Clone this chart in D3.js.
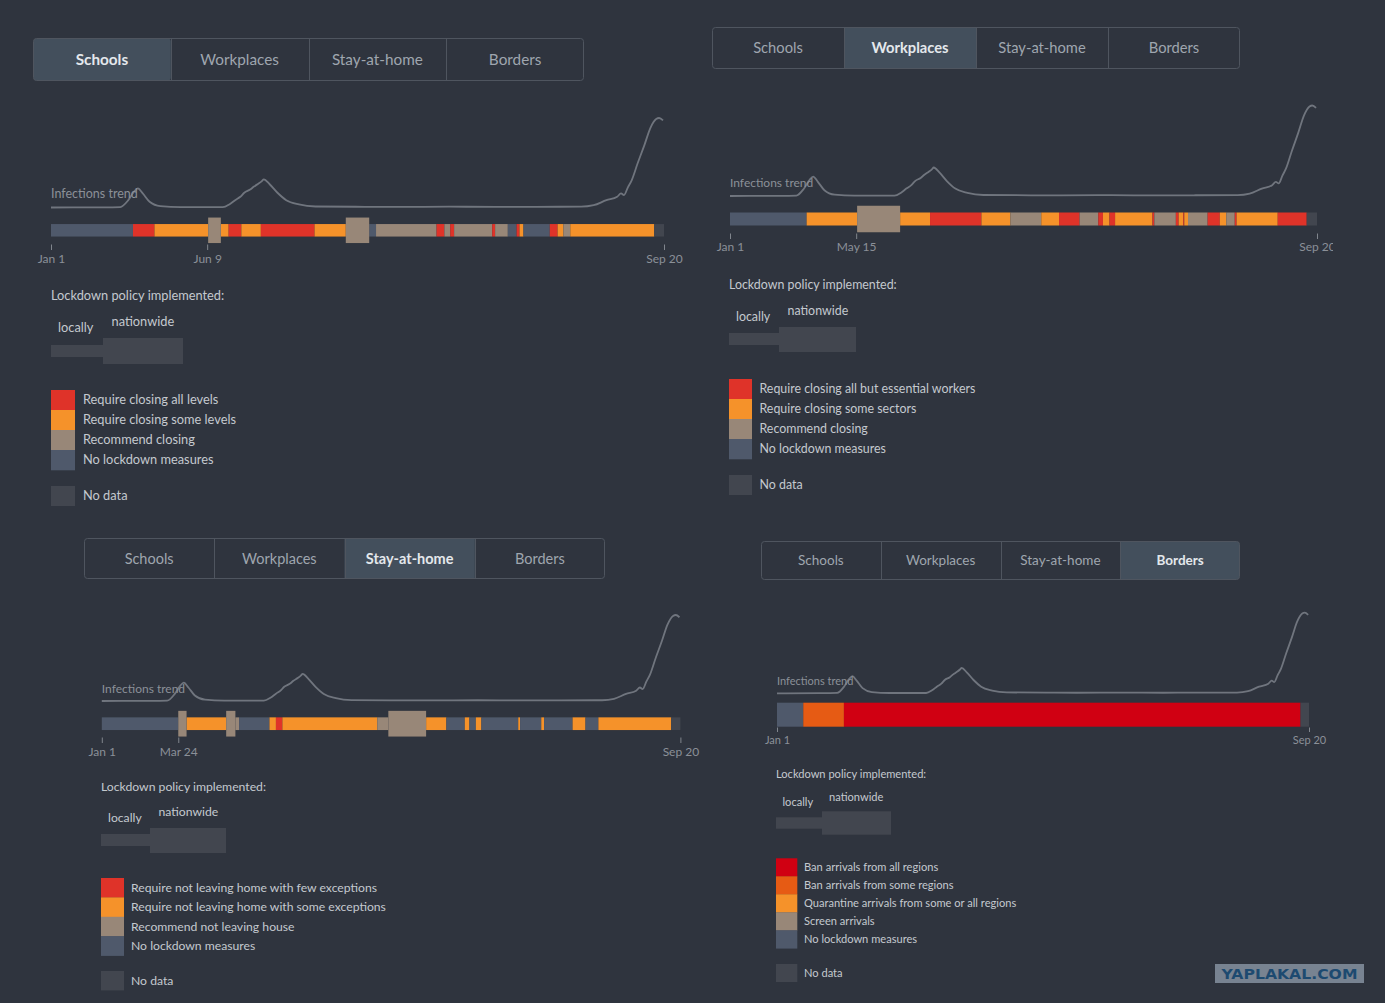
<!DOCTYPE html>
<html><head><meta charset="utf-8">
<script src="https://cdn.jsdelivr.net/npm/d3@7"></script>
<style>
html,body{margin:0;padding:0;background:#2f343e;}
svg{display:block;}
</style></head><body>
<svg id="c" width="1385" height="1003"></svg>
<script>
// ---------------- DATA ----------------
const tabLabels = ["Schools", "Workplaces", "Stay-at-home", "Borders"];
const dateStart = "2020-01-01";
const dateEnd = "2021-09-20";

// Infections trend (relative, peak = 100)
const trendDates = ["2020-01-01","2020-02-20","2020-03-12","2020-03-20","2020-03-26","2020-03-30","2020-04-04","2020-04-11","2020-04-22","2020-05-13",
  "2020-06-25","2020-07-02","2020-07-08","2020-07-13","2020-07-17","2020-07-23","2020-07-27","2020-08-01","2020-08-04","2020-08-06","2020-08-12","2020-08-20","2020-08-29","2020-09-11","2020-09-28",
  "2020-11-18","2020-12-20","2021-02-12","2021-04-01","2021-05-11","2021-06-27","2021-07-10","2021-07-23","2021-08-03","2021-08-07","2021-08-10","2021-08-14","2021-08-18",
  "2021-08-24","2021-08-31","2021-09-06","2021-09-12","2021-09-15","2021-09-19"];
const trendValues = [0,0.2,0.5,8,17.6,21.3,15.7,6.4,1.5,0.4,
  0.4,3.7,8.5,12,16.5,20,23.5,27,29.5,31.5,26,16.5,8.2,3.4,1.1,
  0.8,0.7,0.9,0.7,0.8,0.9,2.6,8.2,12,15.7,13.9,22.5,30.7,
  49.4,70,88.8,98.9,100,97.4];

// Timeline segments: [start date, level, scope]; each ends where the next begins
const schoolsSegments = [
  ["2020-01-01","l0","local"],["2020-03-25","l3","local"],["2020-04-16","l2","local"],["2020-06-10","l1","national"],
  ["2020-06-23","l2","local"],["2020-07-01","l3","local"],["2020-07-14","l2","local"],["2020-08-03","l3","local"],
  ["2020-09-27","l2","local"],["2020-10-29","l1","national"],["2020-11-22","l0","local"],["2020-11-29","l1","local"],
  ["2021-01-30","l3","local"],["2021-02-07","l1","local"],["2021-02-13","l3","local"],["2021-02-17","l1","local"],
  ["2021-03-28","l3","local"],["2021-03-31","l1","local"],["2021-04-13","l0","local"],["2021-04-22","l3","local"],
  ["2021-04-25","l2","local"],["2021-04-29","l0","local"],["2021-05-26","l3","local"],["2021-06-03","l2","local"],
  ["2021-06-09","l1","local"],["2021-06-16","l2","local"],["2021-09-10","nd","local"]
];
const workplacesSegments = [
  ["2020-01-01","l0","local"],["2020-03-23","l2","local"],["2020-05-16","l1","national"],["2020-07-01","l2","local"],
  ["2020-08-02","l3","local"],["2020-09-26","l2","local"],["2020-10-27","l1","local"],["2020-11-29","l2","local"],
  ["2020-12-18","l3","local"],["2021-01-09","l1","local"],["2021-01-29","l3","local"],["2021-02-03","l2","local"],
  ["2021-02-10","l3","local"],["2021-02-16","l2","local"],["2021-03-28","l3","local"],["2021-03-30","l1","local"],
  ["2021-04-22","l3","local"],["2021-04-25","l2","local"],["2021-04-30","l3","local"],["2021-05-01","l2","local"],
  ["2021-05-05","l1","local"],["2021-05-26","l3","local"],["2021-06-08","l2","local"],["2021-06-15","l1","local"],
  ["2021-06-24","l3","local"],["2021-06-26","l2","local"],["2021-08-09","l3","local"],["2021-09-09","nd","local"]
];
const stayHomeSegments = [
  ["2020-01-01","l0","local"],["2020-03-24","l1","national"],["2020-04-02","l2","local"],["2020-05-15","l1","national"],
  ["2020-05-25","l1","local"],["2020-05-29","l0","local"],["2020-07-01","l2","local"],["2020-07-08","l3","local"],
  ["2020-07-15","l2","local"],["2020-10-26","l1","local"],["2020-11-07","l1","national"],["2020-12-18","l2","local"],
  ["2021-01-09","l0","local"],["2021-01-29","l2","local"],["2021-02-03","l0","local"],["2021-02-10","l2","local"],
  ["2021-02-16","l0","local"],["2021-03-28","l2","local"],["2021-03-30","l0","local"],["2021-04-22","l2","local"],
  ["2021-04-25","l0","local"],["2021-05-26","l2","local"],["2021-06-09","l0","local"],["2021-06-23","l2","local"],
  ["2021-09-10","nd","local"]
];
const bordersSegments = [
  ["2020-01-01","l0","national"],["2020-02-01","l3","national"],["2020-03-20","l4","national"],["2021-09-10","nd","national"]
];

// Axis tick dates
const schoolsTicks = ["2020-01-01","2020-06-09","2021-09-20"];
const workplacesTicks = ["2020-01-01","2020-05-15","2021-09-20"];
const stayHomeTicks = ["2020-01-01","2020-03-24","2021-09-20"];
const bordersTicks = ["2020-01-01","2021-09-20"];

// Legend entries
const schoolsLegend = ["Require closing all levels","Require closing some levels","Recommend closing","No lockdown measures"];
const workplacesLegend = ["Require closing all but essential workers","Require closing some sectors","Recommend closing","No lockdown measures"];
const stayHomeLegend = ["Require not leaving home with few exceptions","Require not leaving home with some exceptions","Recommend not leaving house","No lockdown measures"];
const bordersLegend = ["Ban arrivals from all regions","Ban arrivals from some regions","Quarantine arrivals from some or all regions","Screen arrivals","No lockdown measures"];
const fourLevelKeys = ["l3","l2","l1","l0"];
const bordersLevelKeys = ["l4","l3","l2","l1","l0"];

const legendTitle = "Lockdown policy implemented:";
const scopeLabels = ["locally","nationwide"];
const noDataLabel = "No data";
const trendLabel = "Infections trend";
const watermarkText = "YAPLAKAL.COM";

// ---------------- STYLE ----------------
const BG = "#2f343e";
const FONT = "Lato, 'Source Sans Pro', 'Open Sans', sans-serif";
const colorsStd = {l0:"#4f596b", l1:"#988778", l2:"#f5922a", l3:"#df3329", nd:"#42464f"};
const colorsBorders = {l0:"#4f596b", l1:"#988778", l2:"#f5922a", l3:"#e65b14", l4:"#d00012", nd:"#42464f"};

const panels = [
  { segs: schoolsSegments, ticks: schoolsTicks, legend: schoolsLegend, keys: fourLevelKeys, colors: colorsStd,
    tabs:{x:33,y:38,w:551,h:43,active:0,fs:15.3},
    x0:51, x1:664, curveTop:118, curveBase:207.5, barC:230.3, thinH:12.5, tallH:25.5,
    axisY:244.5, tickSize:5.5, labelY:258.5, axisFs:12, trendY:194, trendFs:12.5,
    lg:{titleX:51,titleY:296,fs:12.8,locX:58,locY:328,natX:111.5,natY:322,thin:[51,345,52,12],thick:[103,338,80,26],
        sqX:51,sqW:24,sqTop:390,sqH:20,labX:83,ndTop:486}},
  { segs: workplacesSegments, ticks: workplacesTicks, legend: workplacesLegend, keys: fourLevelKeys, colors: colorsStd,
    tabs:{x:712,y:27,w:528,h:42,active:1,fs:14.7},
    x0:730, x1:1317, curveTop:105.5, curveBase:196, barC:219, thinH:13, tallH:26.5,
    axisY:233.5, tickSize:5.5, labelY:247, axisFs:12, trendY:182.5, trendFs:12, clipRight:1333,
    lg:{titleX:729,titleY:284.5,fs:12.4,locX:736,locY:316.5,natX:787.5,natY:310.5,thin:[729,333,50,12],thick:[779,327,77,25],
        sqX:729,sqW:23,sqTop:379,sqH:20,labX:759.5,ndTop:475}},
  { segs: stayHomeSegments, ticks: stayHomeTicks, legend: stayHomeLegend, keys: fourLevelKeys, colors: colorsStd,
    tabs:{x:84,y:538,w:521,h:41,active:2,fs:14.5},
    x0:101.8, x1:680.4, curveTop:615, curveBase:701, barC:723.7, thinH:12.7, tallH:25.7,
    axisY:737.5, tickSize:5.5, labelY:751.5, axisFs:12, trendY:688.5, trendFs:12,
    lg:{titleX:101,titleY:787,fs:12.2,locX:108,locY:818,natX:158.5,natY:812,thin:[101,834,49,12],thick:[150,828,76,25],
        sqX:101,sqW:23,sqTop:878,sqH:19.4,labX:131,ndTop:971}},
  { segs: bordersSegments, ticks: bordersTicks, legend: bordersLegend, keys: bordersLevelKeys, colors: colorsBorders,
    tabs:{x:761,y:541,w:479,h:39,active:3,fs:13.5},
    x0:777, x1:1309, curveTop:612.7, curveBase:693.3, barC:714.7, thinH:11, tallH:24,
    axisY:727.5, tickSize:4.5, labelY:740, axisFs:11, trendY:681, trendFs:11,
    lg:{titleX:776,titleY:774,fs:11.1,locX:782.5,locY:802.5,natX:829,natY:796.7,thin:[776,817.3,46,11.4],thick:[822,811.3,69,23.4],
        sqX:776,sqW:21.3,sqTop:858.3,sqH:18,labX:804,ndTop:964}}
];

// ---------------- DRAW ----------------
const parse = d3.timeParse("%Y-%m-%d");
const svg = d3.select("#c");
svg.append("rect").attr("width",1385).attr("height",1003).attr("fill",BG);

const trend = trendDates.map((d,i)=>({date:parse(d), v:trendValues[i]}));
const domain = [parse(dateStart), parse(dateEnd)];
const fmt = d3.timeFormat("%b %-d");
const defs = svg.append("defs");

panels.forEach((P, pi) => {
  const g = svg.append("g");
  if (P.clipRight) {
    defs.append("clipPath").attr("id","clip"+pi).append("rect").attr("x",0).attr("y",0).attr("width",P.clipRight).attr("height",1003);
    g.attr("clip-path","url(#clip"+pi+")");
  }
  // Tabs
  const T = P.tabs, bw = T.w/4;
  const tabScale = d3.scaleBand().domain(tabLabels).range([T.x, T.x+T.w]);
  const tg = g.append("g");
  tg.append("rect").attr("x",tabScale(tabLabels[T.active])+(T.active===0?0.5:0)).attr("y",T.y+0.5)
    .attr("width",bw-(T.active===0||T.active===3?0.5:0)).attr("height",T.h-1)
    .attr("rx",T.active===0||T.active===3?3:0).attr("fill","#434f5c");
  tg.append("rect").attr("x",T.x+0.5).attr("y",T.y+0.5).attr("width",T.w-1).attr("height",T.h-1)
    .attr("rx",3).attr("fill","none").attr("stroke","#4f555f").attr("stroke-width",1);
  tabLabels.slice(1).forEach(l=>{
    tg.append("line").attr("x1",Math.round(tabScale(l))+0.5).attr("x2",Math.round(tabScale(l))+0.5)
      .attr("y1",T.y+1).attr("y2",T.y+T.h-1).attr("stroke","#4f555f");
  });
  tg.selectAll("text.tab").data(tabLabels).join("text")
    .attr("x",d=>tabScale(d)+bw/2).attr("y",T.y+T.h/2).attr("dy","0.35em")
    .attr("text-anchor","middle").attr("font-family",FONT).attr("font-size",T.fs)
    .attr("font-weight",(d,i)=>i===T.active?700:400)
    .attr("fill",(d,i)=>i===T.active?"#e4e8ec":"#9fa6af").text(d=>d);

  // Scales
  const x = d3.scaleTime().domain(domain).range([P.x0, P.x1]);
  const y = d3.scaleLinear().domain([0,100]).range([P.curveBase, P.curveTop]);

  // Trend line
  const line = d3.line().x(d=>x(d.date)).y(d=>y(d.v)).curve(d3.curveMonotoneX);
  g.append("path").datum(trend).attr("d",line).attr("fill","none")
    .attr("stroke","#70757e").attr("stroke-width",1.8).attr("stroke-linejoin","round");
  g.append("text").attr("x",P.x0).attr("y",P.trendY).attr("dy","0.35em")
    .attr("font-family",FONT).attr("font-size",P.trendFs).attr("fill","#8b9098").text(trendLabel);

  // Timeline bar
  const segs = P.segs.map((s,i)=>({
    start: parse(s[0]),
    end: i < P.segs.length-1 ? parse(P.segs[i+1][0]) : parse(dateEnd),
    level: s[1], scope: s[2]
  }));
  const sorted = segs.slice().sort((a,b)=>(a.scope==="national")-(b.scope==="national"));
  g.append("g").selectAll("rect").data(sorted).join("rect")
    .attr("x",d=>x(d.start)).attr("width",d=>Math.max(0.8, x(d.end)-x(d.start)))
    .attr("y",d=>P.barC - (d.scope==="national"?P.tallH:P.thinH)/2)
    .attr("height",d=>d.scope==="national"?P.tallH:P.thinH)
    .attr("fill",d=>P.colors[d.level]);

  // Axis
  const fs = P.axisFs;
  const pad = P.labelY - P.axisY - P.tickSize - 0.35*fs;
  const axis = d3.axisBottom(x).tickValues(P.ticks.map(parse)).tickFormat(fmt)
    .tickSize(P.tickSize).tickPadding(pad);
  const ag = g.append("g").attr("transform",`translate(0,${P.axisY})`).call(axis);
  ag.select(".domain").remove();
  ag.selectAll(".tick line").attr("stroke","#80858d");
  ag.selectAll(".tick text").attr("font-family",FONT).attr("font-size",fs).attr("fill","#8b9098");

  // Legend
  const L = P.lg;
  const txt = (sel)=>sel.attr("font-family",FONT).attr("font-size",L.fs).attr("fill","#c4c9cf").attr("dy","0.35em");
  g.append("text").attr("x",L.titleX).attr("y",L.titleY).call(txt).text(legendTitle);
  g.append("text").attr("x",L.locX).attr("y",L.locY).call(txt).text(scopeLabels[0]);
  g.append("text").attr("x",L.natX).attr("y",L.natY).call(txt).text(scopeLabels[1]);
  g.append("rect").attr("x",L.thin[0]).attr("y",L.thin[1]).attr("width",L.thin[2]).attr("height",L.thin[3]).attr("fill",P.colors.nd);
  g.append("rect").attr("x",L.thick[0]).attr("y",L.thick[1]).attr("width",L.thick[2]).attr("height",L.thick[3]).attr("fill",P.colors.nd);

  const ly = d3.scaleBand().domain(P.keys).range([L.sqTop, L.sqTop + L.sqH*P.keys.length]);
  const lg = g.append("g");
  lg.selectAll("rect").data(P.keys).join("rect")
    .attr("x",L.sqX).attr("y",d=>ly(d)).attr("width",L.sqW).attr("height",ly.bandwidth()+0.3)
    .attr("fill",d=>P.colors[d]);
  lg.selectAll("text").data(P.keys).join("text")
    .attr("x",L.labX).attr("y",d=>ly(d)+ly.bandwidth()/2).call(txt)
    .text((d,i)=>P.legend[i]);
  g.append("rect").attr("x",L.sqX).attr("y",L.ndTop).attr("width",L.sqW).attr("height",L.sqH).attr("fill",P.colors.nd);
  g.append("text").attr("x",L.labX).attr("y",L.ndTop+L.sqH/2).call(txt).text(noDataLabel);
});

// Watermark
const wm = svg.append("g");
wm.append("rect").attr("x",1215).attr("y",964).attr("width",149).attr("height",19).attr("fill","#788391");
wm.append("text").attr("x",1289.5).attr("y",973.8).attr("dy","0.36em").attr("text-anchor","middle")
  .attr("font-family","'DejaVu Sans', sans-serif").attr("font-weight",700).attr("font-size",14)
  .attr("textLength",136).attr("lengthAdjust","spacingAndGlyphs")
  .attr("fill","#1d4a70").text(watermarkText);
</script>
</body></html>
